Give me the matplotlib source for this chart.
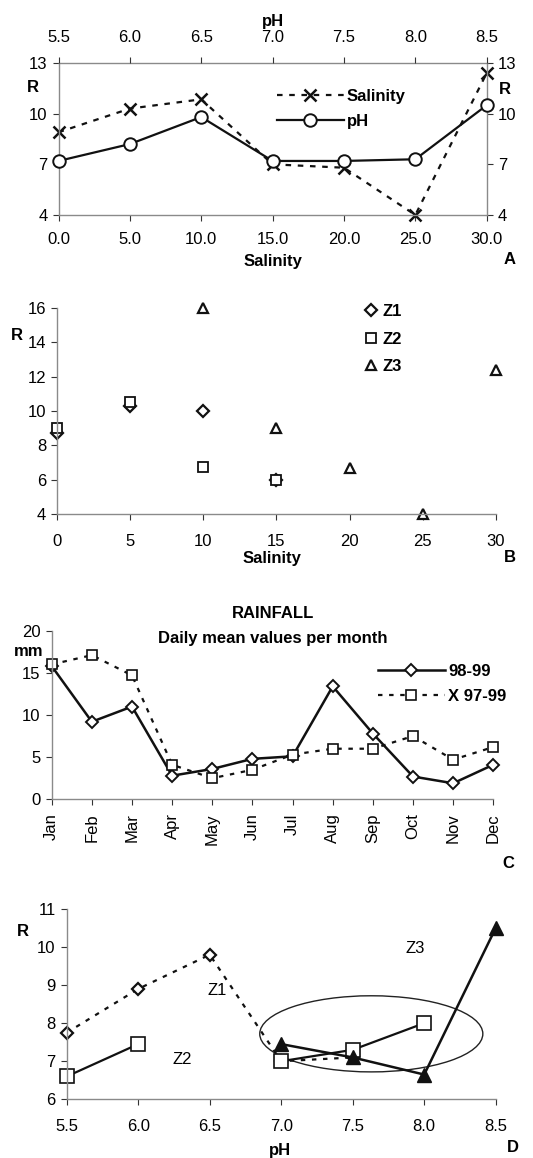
import matplotlib
matplotlib.use('Agg')
import matplotlib.pyplot as plt
import numpy as np
from matplotlib.patches import Ellipse
from matplotlib.ticker import FormatStrFormatter

plt.rcParams['font.family'] = ['Liberation Sans', 'DejaVu Sans']
plt.rcParams['font.size'] = 12

# Panel A: R vs salinity (bottom axis) and pH (top axis)
salinity = [0, 5, 10, 15, 20, 25, 30]
ph_levels = [5.5, 6.0, 6.5, 7.0, 7.5, 8.0, 8.5]
r_salinity = [8.9, 10.3, 10.85, 7.0, 6.8, 4.0, 12.4]
r_ph = [7.2, 8.2, 9.8, 7.2, 7.2, 7.3, 10.5]

# Panel B: R per zone vs salinity
z1_sal = [0, 5, 10, 15]
z1_r = [8.7, 10.3, 10.0, 6.0]
z2_sal = [0, 5, 10, 15]
z2_r = [9.0, 10.5, 6.75, 6.0]
z3_sal = [10, 15, 20, 25, 30]
z3_r = [16.0, 9.0, 6.7, 4.0, 12.4]

# Panel C: rainfall
months = ['Jan', 'Feb', 'Mar', 'Apr', 'May', 'Jun',
          'Jul', 'Aug', 'Sep', 'Oct', 'Nov', 'Dec']
rain_9899 = [15.8, 9.2, 11.0, 2.8, 3.6, 4.8, 5.1, 13.4, 7.8, 2.7, 1.9, 4.1]
rain_9799 = [16.0, 17.1, 14.7, 4.1, 2.5, 3.5, 5.3, 6.0, 6.0, 7.5, 4.7, 6.2]

# Panel D: R per zone vs pH
d_z1_ph = [5.5, 6.0, 6.5, 7.0, 7.5]
d_z1_r = [7.75, 8.9, 9.8, 7.0, 7.1]
d_z2_ph = [5.5, 6.0, 6.5, 7.0, 7.5, 8.0]
d_z2_r = [6.6, 7.45, np.nan, 7.0, 7.3, 8.0]
d_z3_ph = [7.0, 7.5, 8.0, 8.5]
d_z3_r = [7.45, 7.1, 6.65, 10.5]

spine_col = '#8a8a8a'
W, H = 533, 1158
fig = plt.figure(figsize=(W / 100, H / 100), dpi=100)


def px_axes(l, t, r, b):
    return fig.add_axes([l / W, 1 - b / H, (r - l) / W, (b - t) / H])


def style(ax, sides=('left', 'bottom')):
    for s in ax.spines:
        if s in sides:
            ax.spines[s].set_color(spine_col)
            ax.spines[s].set_linewidth(1.0)
        else:
            ax.spines[s].set_visible(False)
    ax.tick_params(direction='out', length=4, width=0.8, color='#333333',
                   labelsize=12, pad=4)


# ---------- A ----------
axA = px_axes(58.5, 63, 486.7, 215)
style(axA, sides=('left', 'bottom', 'top', 'right'))
axA.set_xlim(0, 30)
axA.set_ylim(4, 13)
axA.set_xticks(salinity)
axA.xaxis.set_major_formatter(FormatStrFormatter('%.1f'))
axA.set_yticks([4, 7, 10, 13])
axA.tick_params(axis='y', right=True, labelright=True)
axA.tick_params(axis='x', pad=8)
l1, = axA.plot(salinity, r_salinity, color='#111111', lw=1.6,
               linestyle=(0, (2.5, 3)), marker='x', ms=9, mew=1.8,
               clip_on=False, label='Salinity')
axA.set_xlabel('Salinity', fontweight='bold', labelpad=5)
axT = axA.twiny()
style(axT, sides=())
axT.set_xlim(5.5, 8.5)
axT.set_xticks(ph_levels)
axT.xaxis.set_major_formatter(FormatStrFormatter('%.1f'))
axT.tick_params(axis='x', top=True, direction='out', length=4, pad=9)
l2, = axT.plot(ph_levels, r_ph, color='#111111', lw=1.6, marker='o', ms=9,
               mfc='white', mew=1.4, clip_on=False, label='pH')
axT.set_xlabel('pH', fontweight='bold', labelpad=3)
axT.legend(handles=[l1, l2], loc='upper left', bbox_to_anchor=(0.475, 0.93),
           frameon=False, handlelength=4.0, handletextpad=0.2,
           labelspacing=0.6, prop={'weight': 'bold', 'size': 12})
fig.text(33 / W, 1 - 87 / H, 'R', fontweight='bold', ha='center', va='center')
fig.text(505 / W, 1 - 90 / H, 'R', fontweight='bold', ha='center', va='center')
fig.text(510 / W, 1 - 259 / H, 'A', fontweight='bold', ha='center', va='center')

# ---------- B ----------
axB = px_axes(57.3, 307.7, 495.7, 514.3)
style(axB)
axB.set_xlim(0, 30)
axB.set_ylim(4, 16)
axB.set_xticks([0, 5, 10, 15, 20, 25, 30])
axB.set_yticks([4, 6, 8, 10, 12, 14, 16])
axB.tick_params(axis='x', pad=10)
axB.plot(z1_sal, z1_r, linestyle='none', marker='D', ms=6, mfc='white',
         mec='#111111', mew=1.6, clip_on=False, label='Z1')
axB.plot(z2_sal, z2_r, linestyle='none', marker='s', ms=6.5, mfc='white',
         mec='#111111', mew=1.3, clip_on=False, label='Z2')
axB.plot(z3_sal, z3_r, linestyle='none', marker='^', ms=7, mfc='white',
         mec='#111111', mew=1.6, clip_on=False, label='Z3')
axB.legend(loc='upper left', bbox_to_anchor=(0.665, 1.09), frameon=False,
           handlelength=0.8, handletextpad=0.3, labelspacing=0.75,
           prop={'weight': 'bold', 'size': 12})
fig.text(17 / W, 1 - 336 / H, 'R', fontweight='bold', ha='center', va='center')
fig.text(272 / W, 1 - 559 / H, 'Salinity', fontweight='bold',
         ha='center', va='center')
fig.text(510 / W, 1 - 558 / H, 'B', fontweight='bold', ha='center', va='center')

# ---------- C ----------
axC = px_axes(51.7, 630.7, 493.3, 799.3)
style(axC)
xm = np.arange(len(months))
axC.set_xlim(0, len(months) - 1)
axC.set_ylim(0, 20)
axC.set_yticks([0, 5, 10, 15, 20])
axC.set_xticks(xm)
axC.set_xticklabels(months, rotation=90)
axC.tick_params(axis='x', pad=6)
axC.plot(xm, rain_9899, color='#111111', lw=1.8, marker='D', ms=6,
         mfc='white', mew=1.4, clip_on=False, label='98-99')
axC.plot(xm, rain_9799, color='#111111', lw=1.6, linestyle=(0, (2, 3)),
         marker='s', ms=7.5, mfc='white', mew=1.2, clip_on=False,
         label='X 97-99')
axC.legend(loc='upper left', bbox_to_anchor=(0.705, 0.89), frameon=False,
           handlelength=4.0, handletextpad=0.2, labelspacing=0.6,
           prop={'weight': 'bold', 'size': 12})
fig.text(273 / W, 1 - 614 / H, 'RAINFALL', fontweight='bold',
         ha='center', va='center')
fig.text(273 / W, 1 - 638 / H, 'Daily mean values per month',
         fontweight='bold', ha='center', va='center')
fig.text(29 / W, 1 - 651 / H, 'mm', fontweight='bold', ha='center', va='center')
fig.text(508 / W, 1 - 864 / H, 'C', fontweight='bold', ha='center', va='center')

# ---------- D ----------
axD = px_axes(66.7, 909, 495.7, 1099.3)
style(axD)
axD.set_xlim(5.5, 8.5)
axD.set_ylim(6, 11)
axD.set_xticks([5.5, 6.0, 6.5, 7.0, 7.5, 8.0, 8.5])
axD.xaxis.set_major_formatter(FormatStrFormatter('%.1f'))
axD.set_yticks([6, 7, 8, 9, 10, 11])
axD.tick_params(axis='x', pad=10)
axD.plot(d_z1_ph, d_z1_r, color='#111111', lw=1.6, linestyle=(0, (2, 3)),
         marker='D', ms=6, mfc='white', mew=1.6, clip_on=False)
axD.plot(d_z2_ph, d_z2_r, color='#111111', lw=1.6, marker='s', ms=10,
         mfc='white', mew=1.2, clip_on=False)
axD.plot(d_z3_ph, d_z3_r, color='#111111', lw=1.8, marker='^', ms=10,
         mfc='#111111', clip_on=False)
axD.add_patch(Ellipse((7.63, 7.72), 1.56, 2.0, fill=False,
                      edgecolor='#222222', lw=1.0))
axD.text(6.55, 8.87, 'Z1', ha='center', va='center', fontsize=12)
axD.text(6.31, 7.05, 'Z2', ha='center', va='center', fontsize=12)
axD.text(7.94, 9.97, 'Z3', ha='center', va='center', fontsize=12)
fig.text(23 / W, 1 - 932 / H, 'R', fontweight='bold', ha='center', va='center')
fig.text(280 / W, 1 - 1150 / H, 'pH', fontweight='bold', ha='center', va='center')
fig.text(513 / W, 1 - 1148 / H, 'D', fontweight='bold', ha='center', va='center')

fig.savefig('out.png', dpi=100, facecolor='white')
